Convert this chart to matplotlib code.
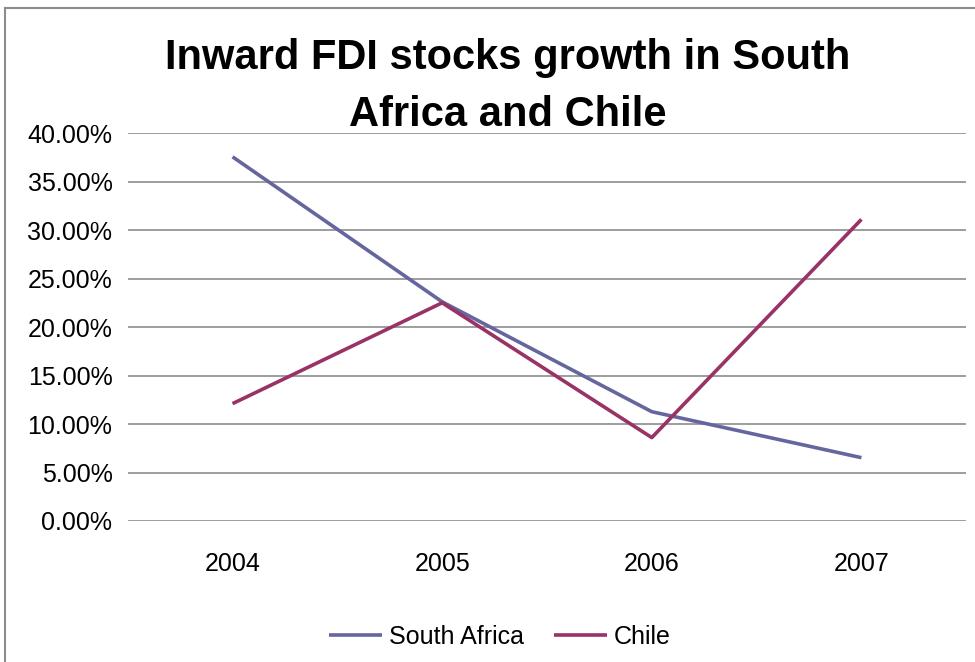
import numpy as np
import matplotlib.pyplot as plt
from matplotlib.lines import Line2D

years = ['2004', '2005', '2006', '2007']
south_africa = [0.3755, 0.2260, 0.1127, 0.0653]
chile = [0.1210, 0.2250, 0.0860, 0.3110]

SA_COLOR = '#66669E'
CHILE_COLOR = '#993366'
GRID_COLOR = '#8C8C8C'

plt.rcParams['font.family'] = ['Liberation Sans', 'DejaVu Sans']

fig = plt.figure(figsize=(9.75, 6.62), dpi=100)
ax = fig.add_axes([0.131, 0.213, 0.860, 0.586])

x = np.arange(len(years))
ax.plot(x, south_africa, color=SA_COLOR, lw=2.6, label='South Africa', solid_capstyle='butt')
ax.plot(x, chile, color=CHILE_COLOR, lw=2.6, label='Chile', solid_capstyle='butt')

ax.set_xlim(-0.5, len(years) - 0.5)
ax.set_ylim(0, 0.40)
ax.set_yticks(np.arange(0, 0.401, 0.05))
ax.set_yticklabels(['%.2f%%' % (v * 100) for v in np.arange(0, 0.401, 0.05)])
ax.set_xticks(x)
ax.set_xticklabels(years)
ax.tick_params(axis='both', length=0, labelsize=18)
ax.tick_params(axis='y', pad=11)
ax.tick_params(axis='x', pad=22)
ax.grid(axis='y', color=GRID_COLOR, lw=1.2)
ax.set_axisbelow(True)
for s in ax.spines.values():
    s.set_visible(False)

# title overlaps the plot top, like the original
fig.text(0.521, 0.870, 'Inward FDI stocks growth in South\nAfrica and Chile',
         ha='center', va='center', fontsize=30, fontweight='bold',
         linespacing=1.55)

fig.legend(loc='center', bbox_to_anchor=(0.513, 0.038), ncol=2, frameon=False,
           fontsize=18, handlelength=2.1, columnspacing=1.2, handletextpad=0.3)

# chart area border (only top and left visible)
fig.add_artist(Line2D([5 / 975, 5 / 975], [0, 1 - 8 / 662], transform=fig.transFigure,
                      color='#8C8C8C', lw=1.5))
fig.add_artist(Line2D([5 / 975, 1], [1 - 8 / 662, 1 - 8 / 662], transform=fig.transFigure,
                      color='#8C8C8C', lw=1.5))

fig.savefig('out.png', dpi=100)
